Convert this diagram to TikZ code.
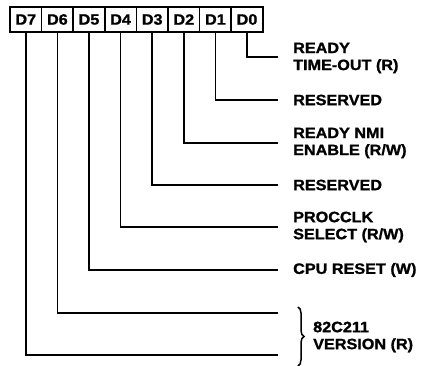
\documentclass[tikz,border=0pt]{standalone}
\usepackage{fontspec}
\setmainfont{Liberation Sans}
\newfontfamily\lblfont{Liberation Sans}[FakeStretch=1.08,FakeBold=1.2]
\usetikzlibrary{decorations.pathreplacing}
\begin{document}
\begin{tikzpicture}[x=1pt,y=-1pt,
  bitbox/.style={draw,line width=1.5pt,minimum width=31.6pt,minimum height=25pt,inner sep=0pt,font=\lblfont\bfseries\fontsize{15}{15}\selectfont},
  lbl/.style={anchor=west,align=left,inner sep=0pt,font=\lblfont\bfseries\fontsize{15}{17}\selectfont},
  wire/.style={line width=1.5pt}]
\useasboundingbox (0,0) rectangle (424,366);
\foreach \b [count=\i from 0] in {7,6,5,4,3,2,1,0} {
  \node[bitbox] (D\b) at ({25.8+31.6*\i},19.5) {D\b};
}
\foreach \b/\y in {0/57,1/100,2/143,3/185,4/227,5/270,6/313,7/355} {
  \coordinate (E\b) at (278,\y);
  \draw[wire] (D\b.south) |- (E\b);
}
\node[lbl] (t0) at (293,58) {READY\\TIME-OUT (R)};
\node[lbl] (t1) at (293,100) {RESERVED};
\node[lbl] (t2) at (293,143) {READY NMI\\ENABLE (R/W)};
\node[lbl] (t3) at (293,185) {RESERVED};
\node[lbl] (t4) at (293,227) {PROCCLK\\SELECT (R/W)};
\node[lbl] (t5) at (293,270) {CPU RESET (W)};
\coordinate (b1) at (298,307);
\coordinate (b2) at (298,366);
\draw[line width=1.5pt,decorate,decoration={brace,amplitude=6pt}] (b1) -- (b2);
\node[lbl] (t6) at (313,337) {82C211\\VERSION (R)};
\end{tikzpicture}
\end{document}
